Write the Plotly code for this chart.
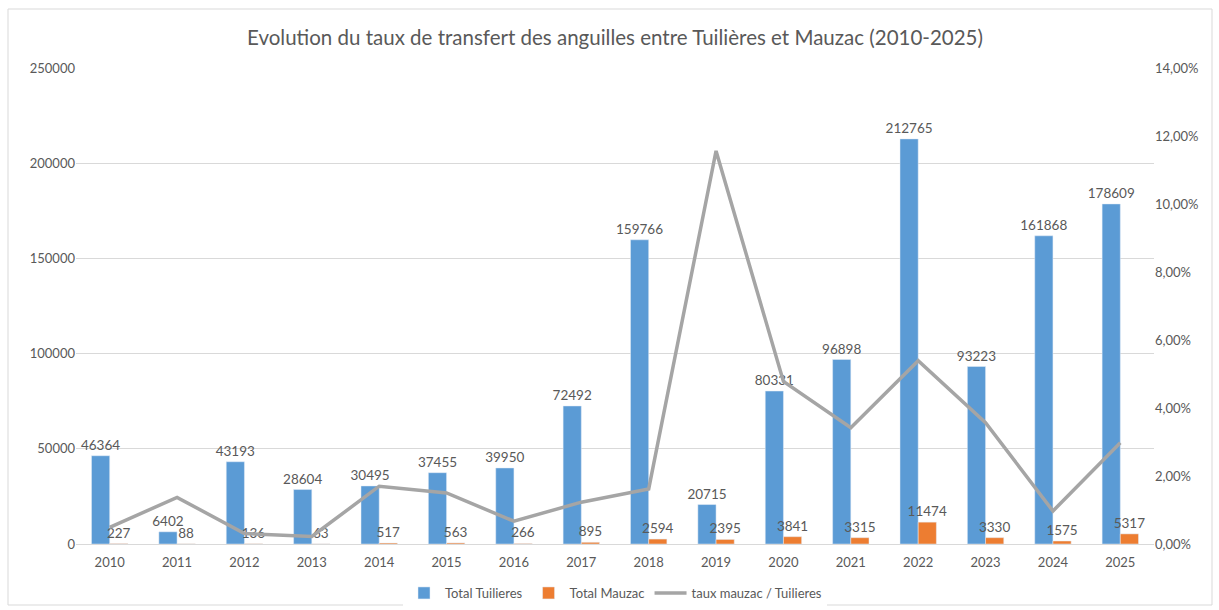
import plotly.graph_objects as go

years = ["2010", "2011", "2012", "2013", "2014", "2015", "2016", "2017",
         "2018", "2019", "2020", "2021", "2022", "2023", "2024", "2025"]
tuilieres = [46364, 6402, 43193, 28604, 30495, 37455, 39950, 72492,
             159766, 20715, 80331, 96898, 212765, 93223, 161868, 178609]
mauzac = [227, 88, 136, 63, 517, 563, 266, 895,
          2594, 2395, 3841, 3315, 11474, 3330, 1575, 5317]
taux = [0.0049, 0.0137, 0.0031, 0.0022, 0.0170, 0.0150, 0.0067, 0.0123,
        0.0162, 0.1156, 0.0478, 0.0342, 0.0539, 0.0357, 0.0097, 0.0298]

FONT = "Lato"
TXT = "#595959"
W, H = 1219, 610
ML, MR, MT, MB = 76, 65, 68, 66

fig = go.Figure()
fig.add_trace(go.Bar(
    x=years, y=tuilieres, name="Total Tuilieres",
    marker_color="#5B9BD5",
    text=[str(v) for v in tuilieres], textposition="outside",
    constraintext="none",
    textfont=dict(size=13.5, color=TXT, family=FONT), cliponaxis=False,
))
fig.add_trace(go.Bar(
    x=years, y=mauzac, name="Total Mauzac",
    marker_color="#ED7D31",
    text=[str(v) for v in mauzac], textposition="outside",
    constraintext="none",
    textfont=dict(size=13.5, color=TXT, family=FONT), cliponaxis=False,
))
fig.add_trace(go.Scatter(
    x=years, y=taux, name="taux mauzac / Tuilieres", yaxis="y2",
    mode="lines", line=dict(color="#A5A5A5", width=3.5),
))

pw = W - ML - MR
ph = H - MT - MB
bx0 = (8 - ML) / pw
bx1 = (1212 - ML) / pw
by0 = (H - 605 - MB) / ph
by1 = (H - 9 - MB) / ph

fig.update_layout(
    width=W, height=H,
    margin=dict(l=ML, r=MR, t=MT, b=MB, autoexpand=False),
    paper_bgcolor="white", plot_bgcolor="white",
    separators=", ",
    font=dict(family=FONT, color=TXT, size=13),
    title=dict(text="Evolution du taux de transfert des anguilles entre Tuilières et Mauzac (2010-2025)",
               x=0.5, xref="paper", y=1 - 38 / H, yanchor="middle",
               font=dict(size=20.5, color=TXT, family=FONT)),
    barmode="group", bargap=0.46, bargroupgap=0,
    xaxis=dict(showgrid=False, showline=True, linecolor="#D9D9D9", linewidth=1,
               ticks="", automargin=False, ticklabelstandoff=6,
               tickfont=dict(size=13, color=TXT)),
    yaxis=dict(range=[0, 250000], dtick=50000, tickformat="d",
               showgrid=True, gridcolor="#D9D9D9", gridwidth=1,
               zeroline=False, showline=False, ticks="", automargin=False,
               tickfont=dict(size=13, color=TXT)),
    yaxis2=dict(range=[0, 0.14], dtick=0.02, tickformat=".2%",
                overlaying="y", side="right", showgrid=False,
                zeroline=False, showline=False, automargin=False,
                tickfont=dict(size=13, color=TXT)),
    legend=dict(orientation="h", x=0.5, xanchor="center", y=-(593 - 544) / ph,
                yanchor="middle", font=dict(size=13, color=TXT),
                itemwidth=32, traceorder="normal"),
    shapes=[dict(type="rect", xref="paper", yref="paper",
                 x0=bx0, x1=bx1, y0=by0, y1=by1,
                 line=dict(color="#D9D9D9", width=1), layer="below")],
)

fig.write_html("out.html", config={"displayModeBar": False},
               post_script="document.body.style.margin='0';document.body.style.overflow='hidden';")
